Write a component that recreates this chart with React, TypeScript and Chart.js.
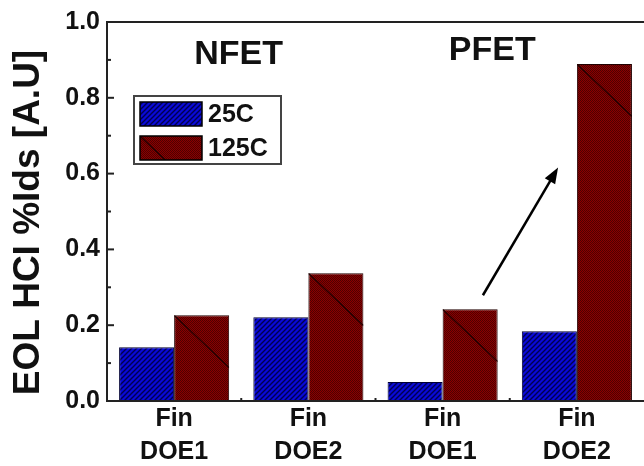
import React, { useEffect, useRef } from "react";
import { Chart, registerables } from "chart.js";

Chart.register(...registerables);

const categories: string[][] = [
  ["Fin", "DOE1"],
  ["Fin", "DOE2"],
  ["Fin", "DOE1"],
  ["Fin", "DOE2"],
];
const series25C: number[] = [0.142, 0.221, 0.05, 0.184];
const series125C: number[] = [0.226, 0.337, 0.242, 0.889];
const seriesNames: string[] = ["25C", "125C"];
const yTicks: number[] = [0, 0.2, 0.4, 0.6, 0.8, 1.0];
const yTitle = "EOL HCI %Ids [A.U]";
const groupTitles: { text: string; x: number; y: number }[] = [
  { text: "NFET", x: 0.48, y: 0.915 },
  { text: "PFET", x: 2.37, y: 0.925 },
];
const arrowFrom = { x: 2.3, y: 0.279 };
const arrowTo = { x: 2.86, y: 0.616 };

const FONT = "'Liberation Sans', Arial, Helvetica, sans-serif";
const TEXT = "#111";

function makeBluePattern(ctx: CanvasRenderingContext2D) {
  const c = document.createElement("canvas");
  c.width = 5;
  c.height = 5;
  const g = c.getContext("2d")!;
  g.fillStyle = "#0a0ad8";
  g.fillRect(0, 0, 5, 5);
  g.strokeStyle = "#000050";
  g.lineWidth = 1.4;
  g.beginPath();
  g.moveTo(-1, 6);
  g.lineTo(6, -1);
  g.moveTo(-2, 2);
  g.lineTo(2, -2);
  g.moveTo(3, 7);
  g.lineTo(7, 3);
  g.stroke();
  return ctx.createPattern(c, "repeat")!;
}

function makeRedPattern(ctx: CanvasRenderingContext2D) {
  const c = document.createElement("canvas");
  c.width = 2;
  c.height = 2;
  const g = c.getContext("2d")!;
  g.fillStyle = "#8a0000";
  g.fillRect(0, 0, 2, 2);
  g.fillStyle = "#4e0000";
  g.fillRect(0, 0, 1, 1);
  g.fillRect(1, 1, 1, 1);
  return ctx.createPattern(c, "repeat")!;
}

function diagLine(ctx: CanvasRenderingContext2D, l: number, t: number, w: number, h: number) {
  ctx.save();
  ctx.beginPath();
  ctx.rect(l, t, w, h);
  ctx.clip();
  ctx.strokeStyle = "#220000";
  ctx.lineWidth = 1.3;
  ctx.beginPath();
  ctx.moveTo(l, t);
  ctx.lineTo(l + w, t + w * 0.95);
  ctx.stroke();
  ctx.restore();
}

const decorPlugin = {
  id: "decor",
  afterDatasetsDraw(chart: any) {
    const ctx: CanvasRenderingContext2D = chart.ctx;
    const meta = chart.getDatasetMeta(1);
    meta.data.forEach((el: any) => {
      const w = el.width;
      const l = el.x - w / 2;
      const t = el.y;
      const h = el.base - el.y;
      diagLine(ctx, l, t, w, h);
    });
  },
  afterDraw(chart: any) {
    const ctx: CanvasRenderingContext2D = chart.ctx;
    const { left, right, top, bottom } = chart.chartArea;
    const xs = chart.scales.x;
    const ys = chart.scales.y;
    ctx.save();
    // frame
    ctx.strokeStyle = "#222";
    ctx.lineWidth = 2;
    ctx.beginPath();
    ctx.moveTo(left, top);
    ctx.lineTo(right, top);
    ctx.moveTo(left, top - 1);
    ctx.lineTo(left, bottom + 1);
    ctx.moveTo(left - 1, bottom);
    ctx.lineTo(right, bottom);
    ctx.stroke();
    // y ticks inward
    for (let i = 0; i < yTicks.length; i++) {
      const py = ys.getPixelForValue(yTicks[i]);
      ctx.beginPath();
      ctx.moveTo(left, py);
      ctx.lineTo(left + 7, py);
      ctx.stroke();
      if (i < yTicks.length - 1) {
        const my = ys.getPixelForValue((yTicks[i] + yTicks[i + 1]) / 2);
        ctx.beginPath();
        ctx.moveTo(left, my);
        ctx.lineTo(left + 4, my);
        ctx.stroke();
      }
    }
    // x ticks at boundaries
    for (let i = 0; i < categories.length - 1; i++) {
      const px = xs.getPixelForValue(i + 0.5);
      ctx.beginPath();
      ctx.moveTo(px, bottom);
      ctx.lineTo(px, bottom - 3);
      ctx.stroke();
    }
    // y title
    ctx.fillStyle = TEXT;
    ctx.save();
    ctx.translate(29, ys.getPixelForValue(0.471));
    ctx.rotate(-Math.PI / 2);
    ctx.font = `bold 37px ${FONT}`;
    ctx.textAlign = "center";
    ctx.textBaseline = "middle";
    ctx.fillText(yTitle, 0, 0);
    ctx.restore();
    // group titles
    ctx.fillStyle = TEXT;
    ctx.font = `bold 34px ${FONT}`;
    ctx.textAlign = "center";
    ctx.textBaseline = "middle";
    groupTitles.forEach((g) => {
      ctx.fillText(g.text, xs.getPixelForValue(g.x), ys.getPixelForValue(g.y));
    });
    // arrow
    const x1 = xs.getPixelForValue(arrowFrom.x);
    const y1 = ys.getPixelForValue(arrowFrom.y);
    const x2 = xs.getPixelForValue(arrowTo.x);
    const y2 = ys.getPixelForValue(arrowTo.y);
    const ang = Math.atan2(y2 - y1, x2 - x1);
    const hl = 16;
    const hw = 6;
    ctx.strokeStyle = "#000";
    ctx.lineWidth = 2.5;
    ctx.beginPath();
    ctx.moveTo(x1, y1);
    ctx.lineTo(x2 - Math.cos(ang) * hl * 0.8, y2 - Math.sin(ang) * hl * 0.8);
    ctx.stroke();
    ctx.fillStyle = "#000";
    ctx.beginPath();
    ctx.moveTo(x2, y2);
    const bx = x2 - Math.cos(ang) * hl;
    const by = y2 - Math.sin(ang) * hl;
    ctx.lineTo(bx + Math.sin(ang) * hw, by - Math.cos(ang) * hw);
    ctx.lineTo(bx - Math.sin(ang) * hw, by + Math.cos(ang) * hw);
    ctx.closePath();
    ctx.fill();
    // legend
    const lx = left + 27;
    const ly = top + 74;
    const lw = 147;
    const lh = 68;
    ctx.fillStyle = "#fff";
    ctx.fillRect(lx, ly, lw, lh);
    ctx.strokeStyle = "#444";
    ctx.lineWidth = 2;
    ctx.strokeRect(lx, ly, lw, lh);
    const fills = [chart.data.datasets[0].backgroundColor, chart.data.datasets[1].backgroundColor];
    seriesNames.forEach((name, i) => {
      const sx = lx + 6;
      const sy = ly + 6 + i * 34;
      ctx.fillStyle = fills[i];
      ctx.fillRect(sx, sy, 62, 24);
      if (i === 1) diagLine(ctx, sx, sy, 62, 24);
      ctx.strokeStyle = "#000";
      ctx.lineWidth = 1.5;
      ctx.strokeRect(sx, sy, 62, 24);
      ctx.fillStyle = TEXT;
      ctx.font = `bold 25px ${FONT}`;
      ctx.textAlign = "left";
      ctx.textBaseline = "middle";
      ctx.fillText(name, sx + 68, sy + 13);
    });
    ctx.restore();
  },
};

export default function App() {
  const ref = useRef<HTMLCanvasElement | null>(null);
  useEffect(() => {
    document.body.style.margin = "0";
    const canvas = ref.current!;
    const ctx = canvas.getContext("2d")!;
    const blue = makeBluePattern(ctx);
    const red = makeRedPattern(ctx);
    const chart = new Chart(ctx, {
      type: "bar",
      data: {
        labels: categories,
        datasets: [
          {
            label: seriesNames[0],
            data: series25C,
            backgroundColor: blue as any,
            borderColor: "#000033",
            borderWidth: 1,
            categoryPercentage: 0.82,
            barPercentage: 1,
          },
          {
            label: seriesNames[1],
            data: series125C,
            backgroundColor: red as any,
            borderColor: "#200000",
            borderWidth: 1,
            categoryPercentage: 0.82,
            barPercentage: 1,
          },
        ],
      },
      options: {
        responsive: false,
        animation: false,
        layout: { padding: { top: 21, left: 0, right: 0, bottom: 0 } },
        plugins: { legend: { display: false }, tooltip: { enabled: false } },
        scales: {
          x: {
            grid: { display: false, drawTicks: false },
            border: { display: false },
            ticks: {
              color: TEXT,
              padding: 2,
              maxRotation: 0,
              autoSkip: false,
              font: { family: FONT, size: 25, weight: "bold", lineHeight: 1.32 },
            },
            afterFit: (s: any) => {
              s.height = 65;
            },
          },
          y: {
            min: 0,
            max: 1,
            grid: { display: false, drawTicks: false },
            border: { display: false },
            ticks: {
              stepSize: 0.2,
              padding: 7,
              color: TEXT,
              font: { family: FONT, size: 25, weight: "bold" },
              callback: (v: any) => Number(v).toFixed(1),
            },
            title: { display: false },
            afterFit: (s: any) => {
              s.width = 107;
            },
          },
        },
      },
      plugins: [decorPlugin],
    });
    return () => chart.destroy();
  }, []);
  return (
    <div style={{ width: 644, height: 466 }}>
      <canvas ref={ref} width={644} height={466} style={{ display: "block" }} />
    </div>
  );
}
